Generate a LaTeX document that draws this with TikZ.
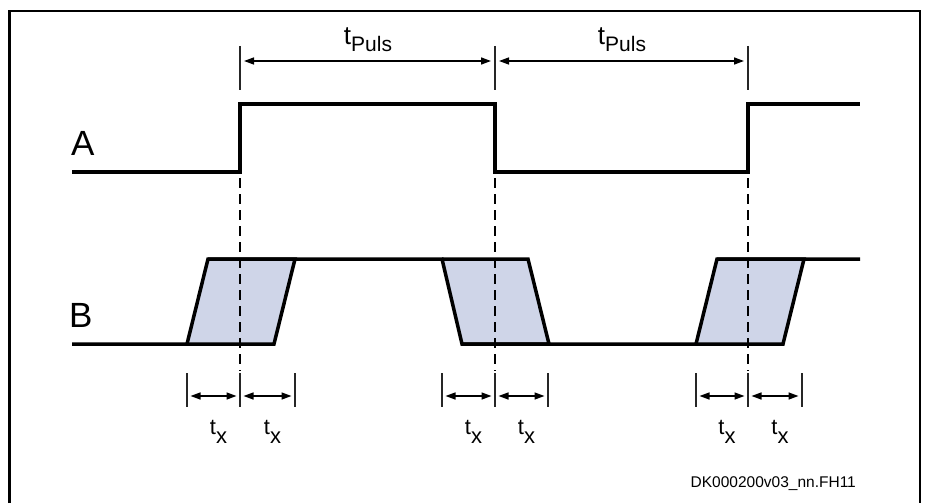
\documentclass[tikz,border=0pt]{standalone}
\usepackage{fontspec}
\setmainfont{Liberation Sans}
\usetikzlibrary{arrows.meta}
\definecolor{edgefill}{RGB}{207,213,232}
\newcommand{\tpuls}{{\fontsize{26}{26}\selectfont t}\raisebox{-6.5pt}{\fontsize{21}{21}\selectfont Puls}}
\newcommand{\txlab}{{\fontsize{22}{22}\selectfont t}\raisebox{-9pt}{\fontsize{22}{22}\selectfont x}}
\begin{document}
\begin{tikzpicture}[x=1pt,y=-1pt,
  wave/.style={line width=3.5pt,line join=miter},
  guide/.style={line width=1.4pt,dash pattern=on 10pt off 6pt},
  ext/.style={line width=1.1pt,black!85},
  dimarrow/.style={line width=1.5pt,{Triangle[length=10pt,width=7pt]}-{Triangle[length=10pt,width=7pt]}},
  sig/.style={font=\fontsize{35}{35}\selectfont,anchor=base west,inner sep=0pt},
  lbl/.style={anchor=base,inner sep=0pt}]
\useasboundingbox (0,0) rectangle (928,503);
% frame (open at the bottom)
\draw[line width=2.6pt] (9.7,503) |- (920,11) -- (920,503);
% shaded transition regions
\fill[edgefill] (187,344) -- (208,259) -- (295,259) -- (274,344) -- cycle;
\fill[edgefill] (442,259) -- (528,259) -- (549,344) -- (462,344) -- cycle;
\fill[edgefill] (696,344) -- (717,259) -- (804,259) -- (783,344) -- cycle;
% dashed guides
\draw[guide] (240,178) -- (240,371);
\draw[guide] (495,178) -- (495,371);
\draw[guide] (748,178) -- (748,371);
% signal A
\draw[wave] (72,172) -- (240,172) -- (240,104) -- (495,104) -- (495,172) -- (748,172) -- (748,104) -- (860,104);
% signal B
\draw[wave] (72,344) -- (187,344) -- (208,259) -- (442,259) -- (462,344) -- (696,344) -- (717,259) -- (860,259);
\draw[wave] (187,344) -- (274,344) -- (295,259) -- (208,259);
\draw[wave] (442,259) -- (528,259) -- (549,344) -- (462,344);
\draw[wave] (696,344) -- (783,344) -- (804,259) -- (717,259);
% top dimension lines
\foreach \x in {240,495,748} \draw[ext] (\x,46) -- (\x,90);
\coordinate (p1l) at (244,61); \coordinate (p1r) at (491,61);
\coordinate (p2l) at (499,61); \coordinate (p2r) at (744,61);
\draw[dimarrow] (p1l) -- (p1r);
\draw[dimarrow] (p2l) -- (p2r);
\node[lbl] (tp1) at (368,45) {\tpuls};
\node[lbl] (tp2) at (622,45) {\tpuls};
% bottom dimension lines
\foreach \x in {187,240,295,442,495,548,696,748,802} \draw[ext] (\x,373) -- (\x,407);
\draw[dimarrow] (190.5,396) -- (236.5,396);
\draw[dimarrow] (243.5,396) -- (291.5,396);
\draw[dimarrow] (445.5,396) -- (491.5,396);
\draw[dimarrow] (498.5,396) -- (544.5,396);
\draw[dimarrow] (699.5,396) -- (744.5,396);
\draw[dimarrow] (751.5,396) -- (798.5,396);
\node[lbl] (tx1) at (218.5,434) {\txlab};
\node[lbl] (tx2) at (272.5,434) {\txlab};
\node[lbl] (tx3) at (473.5,434) {\txlab};
\node[lbl] (tx4) at (526.5,434) {\txlab};
\node[lbl] (tx5) at (727,434) {\txlab};
\node[lbl] (tx6) at (780,434) {\txlab};
% signal names
\node[sig] (labA) at (71,155) {A};
\node[sig] (labB) at (69,327) {B};
% drawing code
\node[anchor=base west,inner sep=0pt,font=\fontsize{15.5}{15.5}\selectfont] (code) at (690.5,487) {DK000200v03\_nn.FH11};
\end{tikzpicture}
\end{document}
